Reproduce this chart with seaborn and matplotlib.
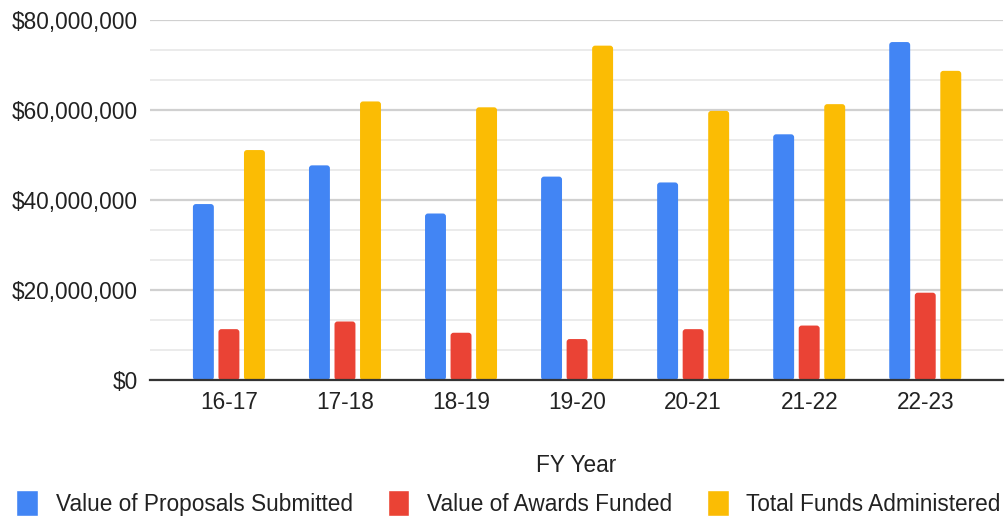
import matplotlib
matplotlib.use("Agg")
import matplotlib.pyplot as plt
from matplotlib.patches import FancyBboxPatch
from matplotlib.ticker import MultipleLocator, FuncFormatter
import seaborn as sns
import pandas as pd

# Fiscal-year funding figures (US dollars)
years = ["16-17", "17-18", "18-19", "19-20", "20-21", "21-22", "22-23"]
proposals_submitted = [39.1e6, 47.7e6, 37.0e6, 45.2e6, 43.9e6, 54.6e6, 75.1e6]
awards_funded = [11.3e6, 13.0e6, 10.5e6, 9.1e6, 11.3e6, 12.1e6, 19.4e6]
funds_administered = [51.1e6, 61.9e6, 60.6e6, 74.3e6, 59.8e6, 61.3e6, 68.7e6]
series_names = ["Value of Proposals Submitted", "Value of Awards Funded",
                "Total Funds Administered"]
series_colors = ["#4285F4", "#EA4335", "#FBBC04"]

df = pd.DataFrame({
    "FY Year": years * 3,
    "Value": proposals_submitted + awards_funded + funds_administered,
    "Series": [s for s in series_names for _ in years],
})

sns.set_theme(style="white")
plt.rcParams["font.family"] = ["Liberation Sans", "DejaVu Sans"]
FS = 16.3
TXT = "#222222"

fig = plt.figure(figsize=(10.06, 5.18), dpi=100)
ax = fig.add_axes([150 / 1006, 138 / 518, 853 / 1006, 360 / 518])

sns.barplot(data=df, x="FY Year", y="Value", hue="Series", order=years,
            hue_order=series_names, palette=series_colors, width=0.66,
            gap=0.18, saturation=1, errorbar=None, ax=ax, zorder=3,
            legend=True)

ax.set_xlim(-0.68, 6.67)
ax.set_ylim(0, 80e6)

# Swap the plain rectangles for bars with slightly rounded corners
x_per_px = (6.67 + 0.68) / 853
y_per_px = 80e6 / 360
for bar in list(ax.patches):
    x, y = bar.get_xy()
    w, h = bar.get_width(), bar.get_height()
    if h <= 0:
        continue
    rounded = FancyBboxPatch(
        (x, y), w, h,
        boxstyle=f"round,pad=0,rounding_size={3 * x_per_px}",
        mutation_aspect=y_per_px / x_per_px,
        facecolor=bar.get_facecolor(), edgecolor="none", zorder=3)
    ax.add_patch(rounded)
    bar.set_visible(False)

ax.yaxis.set_major_locator(MultipleLocator(20e6))
ax.yaxis.set_minor_locator(MultipleLocator(20e6 / 3))
ax.yaxis.set_major_formatter(FuncFormatter(lambda v, p: f"${v:,.0f}"))
ax.grid(axis="y", which="major", color="#d0d0d0", linewidth=1.6, zorder=0)
ax.grid(axis="y", which="minor", color="#ebebeb", linewidth=1.4, zorder=0)
ax.grid(axis="x", visible=False)
ax.set_axisbelow(True)

for side in ["top", "right", "left"]:
    ax.spines[side].set_visible(False)
ax.spines["bottom"].set_color("#333333")
ax.spines["bottom"].set_linewidth(1.6)
ax.spines["bottom"].set_zorder(4)

ax.tick_params(axis="y", which="both", length=0, pad=9.0, labelsize=FS,
               labelcolor=TXT)
ax.tick_params(axis="x", length=0, pad=8, labelsize=FS, labelcolor=TXT)
ax.set_ylabel("")
ax.set_xlabel("FY Year", fontsize=FS, color=TXT, labelpad=29)

handles, labels = ax.get_legend_handles_labels()
ax.legend_.remove()
fig.legend(handles, labels, loc="lower center", bbox_to_anchor=(0.5055, -0.036),
           ncol=3, frameon=False, fontsize=FS, handlelength=0.95,
           handleheight=1.4, handletextpad=0.78, columnspacing=1.55,
           labelcolor=TXT)

fig.savefig("out.png", dpi=100)
